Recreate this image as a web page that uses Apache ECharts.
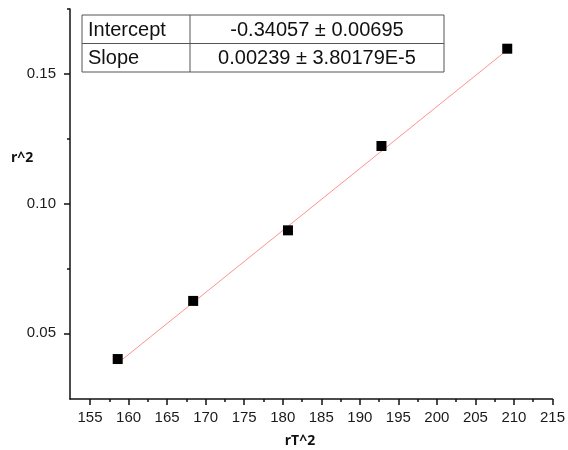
<!DOCTYPE html>
<html lang="en">
  <head>
    <meta charset="UTF-8" />
    <title>r^2 vs rT^2</title>
    <style>
      html, body { margin: 0; padding: 0; background: #fff; }
      #chart { width: 568px; height: 450px; }
    </style>
  </head>
  <body>
    <div id="chart"></div>
    <script src="https://cdn.jsdelivr.net/npm/echarts@6/dist/echarts.min.js"></script>
    <script>
      // measured points
      const rT2 = [158.59, 168.38, 180.68, 192.81, 209.13];
      const r2 = [0.0401, 0.0625, 0.0897, 0.1222, 0.1597];
      // fitted line ends
      const fitX = [158.59, 209.13];
      const fitY = [0.0385, 0.1592];
      const xMajor = [155, 160, 165, 170, 175, 180, 185, 190, 195, 200, 205, 210, 215];
      const xMinor = [157.5, 162.5, 167.5, 172.5, 177.5, 182.5, 187.5, 192.5, 197.5, 202.5, 207.5, 212.5];
      const yMajor = [0.05, 0.1, 0.15];
      const yMinor = [0.075, 0.125, 0.175];
      const fitRows = [
        ["Intercept", "-0.34057 ± 0.00695"],
        ["Slope", "0.00239 ± 3.80179E-5"],
      ];

      const axisColor = "#111";
      const font = "Liberation Sans, Arial, sans-serif";

      const chart = echarts.init(document.getElementById("chart"));

      // fit parameter table
      const tbl = { x: 82, y: 15, w: 362, rowH: 28.5, col: 108 };
      const tableEls = [
        {
          type: "rect",
          shape: { x: tbl.x, y: tbl.y, width: tbl.w, height: tbl.rowH * fitRows.length },
          style: { fill: "#fff", stroke: "#555", lineWidth: 1 },
        },
        {
          type: "line",
          shape: { x1: tbl.x, y1: tbl.y + tbl.rowH, x2: tbl.x + tbl.w, y2: tbl.y + tbl.rowH },
          style: { stroke: "#555", lineWidth: 1 },
        },
        {
          type: "line",
          shape: { x1: tbl.x + tbl.col, y1: tbl.y, x2: tbl.x + tbl.col, y2: tbl.y + tbl.rowH * fitRows.length },
          style: { stroke: "#555", lineWidth: 1 },
        },
      ];
      fitRows.forEach((row, i) => {
        const cy = tbl.y + tbl.rowH * i + tbl.rowH / 2 + 1;
        tableEls.push({
          type: "text",
          x: tbl.x + 6,
          y: cy,
          style: { text: row[0], font: "20px " + font, fill: "#111", verticalAlign: "middle" },
        });
        tableEls.push({
          type: "text",
          x: tbl.x + tbl.col + (tbl.w - tbl.col) / 2,
          y: cy,
          style: { text: row[1], font: "20px " + font, fill: "#111", align: "center", verticalAlign: "middle" },
        });
      });

      const option = {
        animation: false,
        backgroundColor: "#fff",
        grid: { left: 70, right: 15, top: 9, bottom: 51 },
        xAxis: [
          {
            type: "value",
            position: "bottom",
            min: 152.4,
            max: 215,
            axisLine: { show: true, onZero: false, lineStyle: { color: axisColor, width: 1.5 } },
            axisTick: { show: true, customValues: xMajor, length: 6, lineStyle: { color: axisColor, width: 1.5 } },
            axisLabel: { customValues: xMajor, color: "#1a1a1a", fontSize: 15, fontFamily: font, margin: 11 },
            splitLine: { show: false },
          },
          {
            type: "value",
            position: "bottom",
            min: 152.4,
            max: 215,
            axisLine: { show: false, onZero: false },
            axisTick: { show: true, customValues: xMinor, length: 3, lineStyle: { color: axisColor, width: 1.5 } },
            axisLabel: { show: false },
            splitLine: { show: false },
          },
        ],
        yAxis: [
          {
            type: "value",
            position: "left",
            min: 0.0247,
            max: 0.175,
            axisLine: { show: true, onZero: false, lineStyle: { color: axisColor, width: 1.5 } },
            axisTick: { show: true, customValues: yMajor, length: 6, lineStyle: { color: axisColor, width: 1.5 } },
            axisLabel: {
              customValues: yMajor,
              color: "#1a1a1a",
              fontSize: 15,
              fontFamily: font,
              margin: 14,
              formatter: (v) => v.toFixed(2),
            },
            splitLine: { show: false },
          },
          {
            type: "value",
            position: "left",
            min: 0.0247,
            max: 0.175,
            axisLine: { show: false, onZero: false },
            axisTick: { show: true, customValues: yMinor, length: 3, lineStyle: { color: axisColor, width: 1.5 } },
            axisLabel: { show: false },
            splitLine: { show: false },
          },
        ],
        graphic: [
          {
            type: "text",
            x: 11,
            y: 158,
            style: { text: "r^2", font: "bold 14px Open Sans, sans-serif", fill: "#111", verticalAlign: "middle" },
          },
          {
            type: "text",
            x: 300,
            y: 441,
            style: { text: "rT^2", font: "bold 14px Open Sans, sans-serif", fill: "#111", align: "center", verticalAlign: "middle" },
          },
          ...tableEls,
        ],
        series: [
          {
            name: "fit",
            type: "line",
            data: fitX.map((x, i) => [x, fitY[i]]),
            symbol: "none",
            lineStyle: { color: "#ff5050", width: 0.8, opacity: 0.8 },
            z: 2,
          },
          {
            name: "data",
            type: "scatter",
            data: rT2.map((x, i) => [x, r2[i]]),
            symbol: "rect",
            symbolSize: 10,
            itemStyle: { color: "#000", opacity: 1 },
            z: 3,
          },
        ],
      };
      chart.setOption(option);
    </script>
  </body>
</html>
